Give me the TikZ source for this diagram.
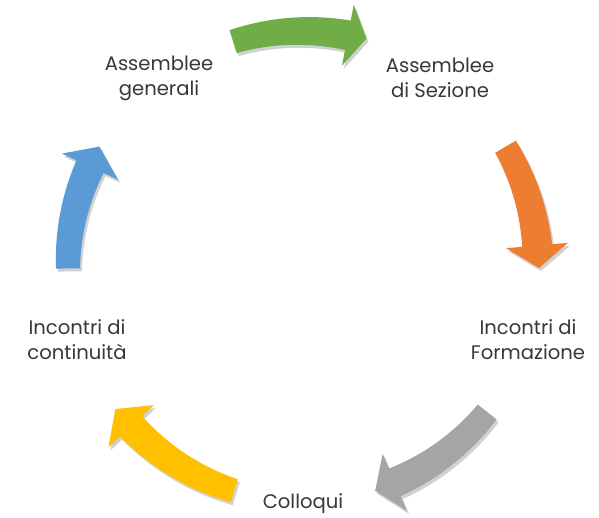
\documentclass[tikz,border=0pt]{standalone}
\usepackage{fontspec}
\setmainfont{Poppins}
\usetikzlibrary{shadows}
\definecolor{cgreen}{HTML}{70AD47}
\definecolor{corange}{HTML}{ED7D31}
\definecolor{cgrey}{HTML}{A5A5A5}
\definecolor{cyellow}{HTML}{FFC000}
\definecolor{cblue}{HTML}{5B9BD5}
\definecolor{ctext}{HTML}{383838}
\tikzset{
  lbl/.style={align=center, font=\fontsize{19.6}{25}\selectfont, text=ctext, inner sep=0pt},
  arrowshape/.style={drop shadow={shadow xshift=2pt, shadow yshift=-3pt, opacity=0.18, fill=black}},
}
\def\cx{303}\def\cy{252}\def\rc{235}\def\wt{12}\def\wb{15}\def\hw{31}\def\rt{236}
\newcommand{\cycarrow}[4]{%
  \fill[#1, arrowshape]
    plot[variable=\t, domain=#2:#3, samples=30]
      ({\cx+(\rc+\wt+(\wb-\wt)*(\t-(#2))/((#3)-(#2)))*cos(\t)},
       {\cy+(\rc+\wt+(\wb-\wt)*(\t-(#2))/((#3)-(#2)))*sin(\t)})
    -- ({\cx+(\rc+\hw)*cos(#3)},{\cy+(\rc+\hw)*sin(#3)})
    -- ({\cx+\rt*cos(#4)},{\cy+\rt*sin(#4)})
    -- ({\cx+(\rc-\hw)*cos(#3)},{\cy+(\rc-\hw)*sin(#3)})
    -- plot[variable=\t, domain=#3:#2, samples=30]
      ({\cx+(\rc-\wt-(\wb-\wt)*(\t-(#2))/((#3)-(#2)))*cos(\t)},
       {\cy+(\rc-\wt-(\wb-\wt)*(\t-(#2))/((#3)-(#2)))*sin(\t)})
    -- cycle;}
\begin{document}
\begin{tikzpicture}[x=1pt,y=1pt]
  \fill[white] (0,0) rectangle (599,518);
  \useasboundingbox (0,0) rectangle (599,518);
  % arrows (math angles: tail, head base, tip)
  \cycarrow{cgreen}{107.3}{79}{74.4}
  \cycarrow{corange}{30.5}{5}{-0.5}
  \cycarrow{cgrey}{-38.4}{-67}{-72.2}
  \cycarrow{cyellow}{-107}{-137}{-142.7}
  \cycarrow{cblue}{-179.4}{-205}{-210.4}
  % labels
  \node[lbl] (ag) at (159,440) {Assemblee\\generali};
  \node[lbl] (as) at (440,440) {Assemblee\\di Sezione};
  \node[lbl] (if) at (528,178) {Incontri di\\Formazione};
  \node[lbl] (co) at (303,14) {Colloqui};
  \node[lbl] (ic) at (77,178) {Incontri di\\continuità};
\end{tikzpicture}
\end{document}
